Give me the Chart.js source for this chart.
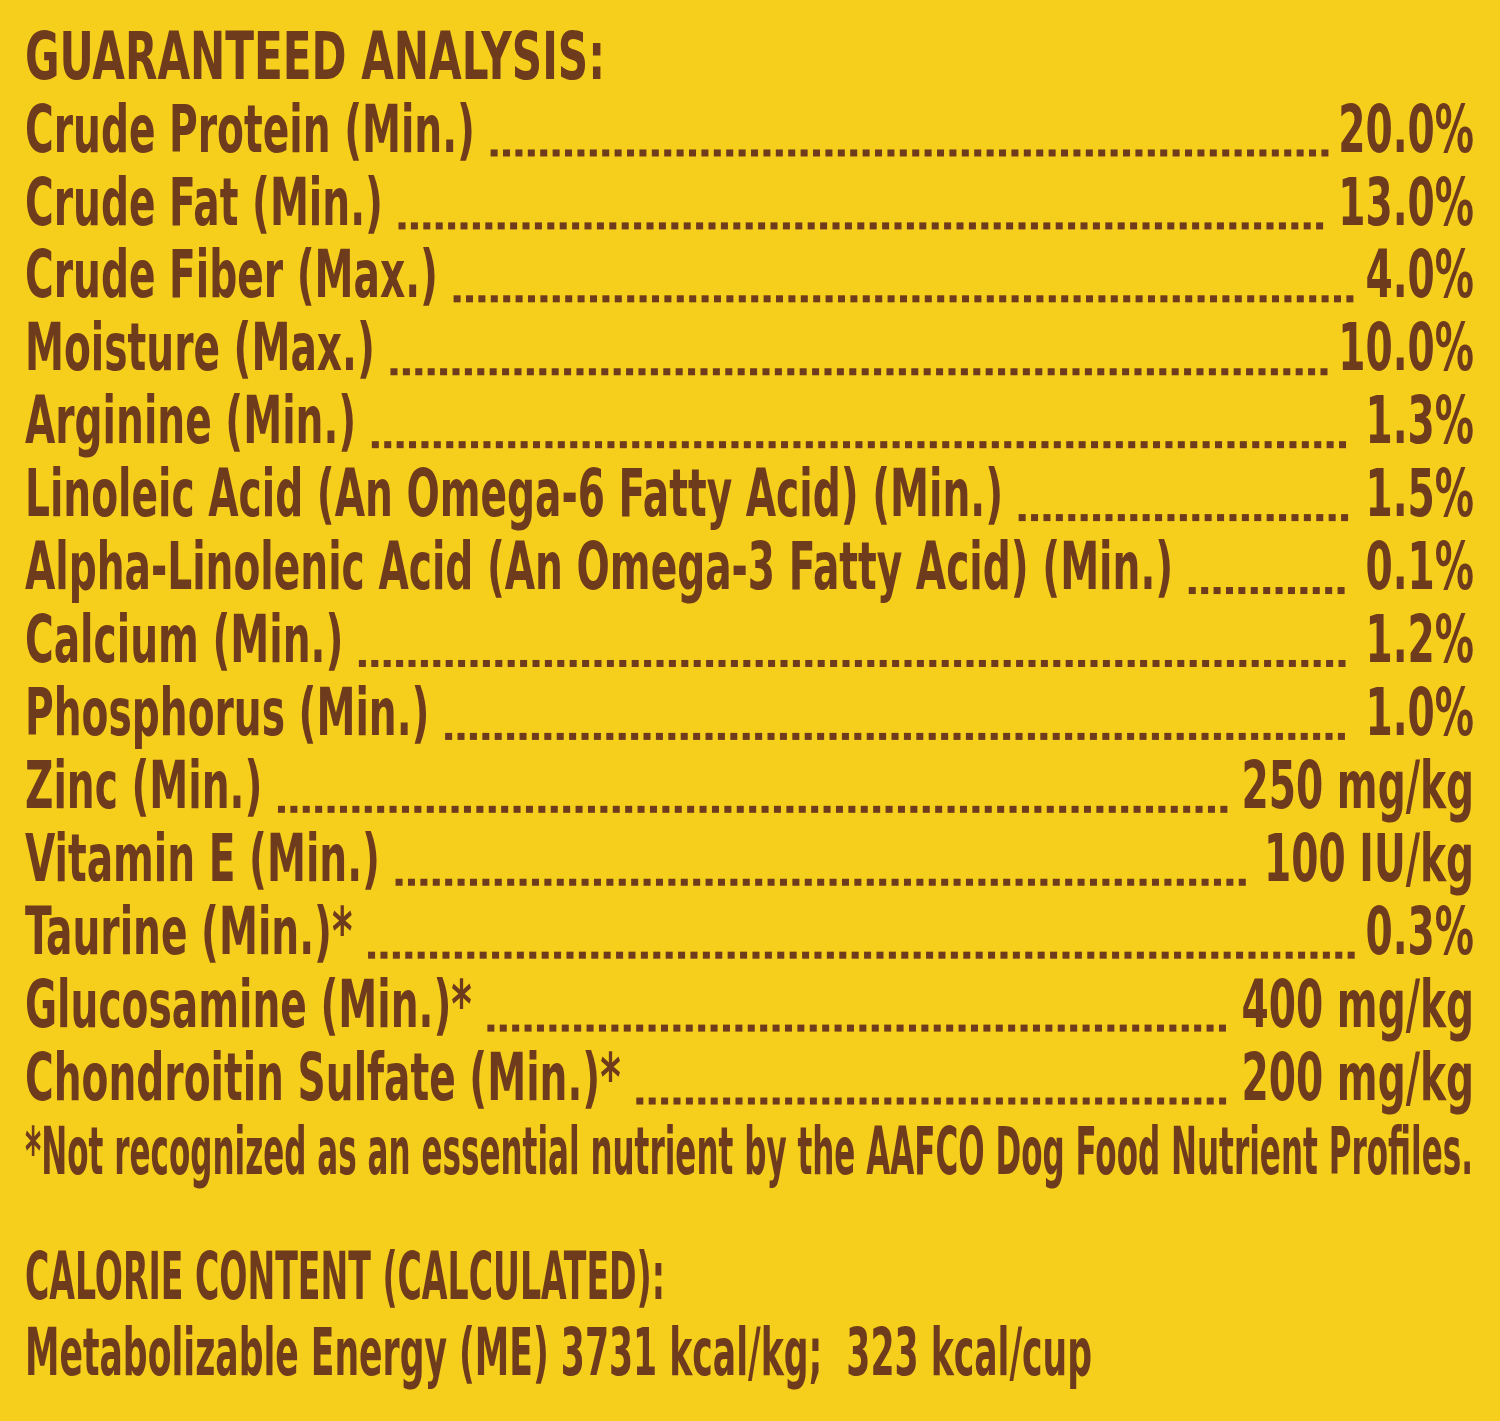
<!DOCTYPE html>
<html><head><meta charset="utf-8">
<script src="https://cdn.jsdelivr.net/npm/chart.js@4"></script>
<style>html,body{margin:0;padding:0;background:#F6CE1C;}canvas{display:block}</style>
</head><body>
<canvas id="c" width="1500" height="1421"></canvas>
<script>
const title = "GUARANTEED ANALYSIS:";
const nutrients = ["Crude Protein (Min.)","Crude Fat (Min.)","Crude Fiber (Max.)","Moisture (Max.)","Arginine (Min.)","Linoleic Acid (An Omega-6 Fatty Acid) (Min.)","Alpha-Linolenic Acid (An Omega-3 Fatty Acid) (Min.)","Calcium (Min.)","Phosphorus (Min.)","Zinc (Min.)","Vitamin E (Min.)","Taurine (Min.)*","Glucosamine (Min.)*","Chondroitin Sulfate (Min.)*"];
const amounts = [20.0,13.0,4.0,10.0,1.3,1.5,0.1,1.2,1.0,250,100,0.3,400,200];
const units = ["%","%","%","%","%","%","%","%","%"," mg/kg"," IU/kg","%"," mg/kg"," mg/kg"];
const footnote = "*Not recognized as an essential nutrient by the AAFCO Dog Food Nutrient Profiles.";
const calorieTitle = "CALORIE CONTENT (CALCULATED):";
const calorieLine = "Metabolizable Energy (ME) 3731 kcal/kg;  323 kcal/cup";

const BROWN = "#6E3B1C";
const FONT = '600 66px "DejaVu Sans Condensed", "Liberation Sans Narrow", sans-serif';
let SX = 0.72;
function fmt(v,u){ return (u==="%"? v.toFixed(1) : String(v)) + u; }
function txt(ctx,s,x,y,align,target){
  ctx.save(); ctx.font=FONT; ctx.textBaseline="middle"; ctx.fillStyle=BROWN;
  const raw=ctx.measureText(s).width;
  const sx = target? target/raw : SX;
  const w=raw*sx;
  const x0 = align==="right"? x-w : x;
  ctx.translate(x0,y); ctx.scale(sx,1); ctx.textAlign="left"; ctx.fillText(s,0,0);
  ctx.restore(); return w;
}
const panel = {
  id:'panel',
  afterDraw(chart){
    const ctx=chart.ctx, ys=chart.scales.y;
    const L=25, R=1474;
    ctx.save(); ctx.font=FONT; SX = 450/ctx.measureText(nutrients[0]).width; ctx.restore();
    txt(ctx,title,L,ys.getPixelForValue(0)-73,"left",580);
    nutrients.forEach((n,i)=>{
      const y=ys.getPixelForValue(i);
      const lw=txt(ctx,n+" ",L,y,"left");
      const vw=txt(ctx," "+fmt(amounts[i],units[i]),R,y,"right");
      ctx.save(); ctx.fillStyle=BROWN;
      for(let x=L+lw+2; x<R-vw-2; x+=12.4){ ctx.fillRect(x,y+15,7,7); }
      ctx.restore();
    });
    const last=ys.getPixelForValue(nutrients.length-1);
    txt(ctx,footnote,L,last+74,"left",1448);
    txt(ctx,calorieTitle,L,last+199,"left",640);
    txt(ctx,calorieLine,L,last+275,"left",1067);
  }
};
new Chart(document.getElementById('c'),{
  type:'bar',
  data:{labels:nutrients,datasets:[{data:amounts.map(()=>null)}]},
  options:{responsive:false,animation:false,indexAxis:'y',
    layout:{padding:{top:98,bottom:302,left:0,right:0}},
    plugins:{legend:{display:false},tooltip:{enabled:false}},
    scales:{x:{display:false},y:{display:false,offset:true}}},
  plugins:[panel]
});
</script>
</body></html>
